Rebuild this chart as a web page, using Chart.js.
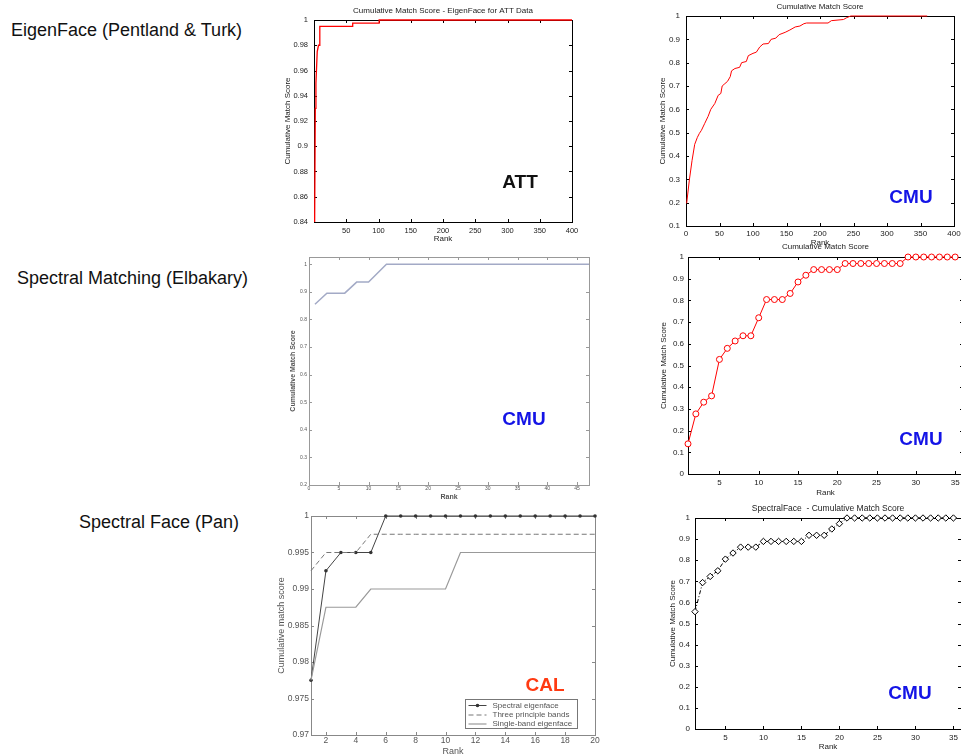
<!DOCTYPE html>
<html>
<head>
<meta charset="utf-8">
<script src="https://cdn.jsdelivr.net/npm/chart.js@4/dist/chart.umd.min.js"></script>
<style>
  body { margin: 0; width: 961px; height: 755px; background: #fff; overflow: hidden; position: relative;
         font-family: "Liberation Sans", Arial, sans-serif; }
  canvas { position: absolute; }
  .lbl { position: absolute; font-size: 18px; line-height: 1; color: #111; white-space: nowrap; }
  .tag { position: absolute; font-size: 19px; line-height: 1; font-weight: bold; transform: translate(-50%, -50%); }
</style>
</head>
<body>
<div class="lbl" style="left:11px;top:21px">EigenFace (Pentland &amp; Turk)</div>
<div class="lbl" style="left:17px;top:269px">Spectral Matching (Elbakary)</div>
<div class="lbl" style="left:79px;top:513px">Spectral Face (Pan)</div>

<canvas id="c1" width="306" height="246" style="left:278px;top:0px"></canvas>
<canvas id="c2" width="314" height="250" style="left:652px;top:0px"></canvas>
<canvas id="c3" width="310" height="253" style="left:285px;top:250px"></canvas>
<canvas id="c4" width="310" height="258" style="left:658px;top:240px"></canvas>
<canvas id="c5" width="328" height="252" style="left:275px;top:505px"></canvas>
<canvas id="c6" width="301" height="253" style="left:665px;top:500px"></canvas>

<div class="tag" style="left:520px;top:181px;color:#111">ATT</div>
<div class="tag" style="left:911px;top:196px;color:#1414e6">CMU</div>
<div class="tag" style="left:524px;top:418px;color:#1414e6">CMU</div>
<div class="tag" style="left:921px;top:438px;color:#1414e6">CMU</div>
<div class="tag" style="left:545px;top:684px;color:#ff3a12">CAL</div>
<div class="tag" style="left:910px;top:692px;color:#1414e6">CMU</div>

<script>
// EigenFace, ATT
const rank1 = [1, 2, 3, 5, 7, 8, 9, 60, 60, 101, 101, 400];
const score1 = [0.84, 0.93, 0.95, 0.975, 0.98, 0.98, 0.995, 0.995, 0.9975, 0.9975, 1, 1];
const xTicks1 = [50, 100, 150, 200, 250, 300, 350, 400];
const yTicks1 = [0.84, 0.86, 0.88, 0.9, 0.92, 0.94, 0.96, 0.98, 1];

// EigenFace, CMU
const rank2 = [1, 5, 9, 13, 17, 20, 23, 28, 33, 37, 43, 48, 52, 54, 58, 62, 66, 68, 73, 80, 83, 90, 93,
  100, 105, 110, 115, 123, 127, 134, 139, 148, 155, 163, 170, 176, 180, 212, 217, 235, 240, 246, 360];
const score2 = [0.197, 0.297, 0.38, 0.45, 0.48, 0.497, 0.51, 0.54, 0.57, 0.6, 0.625, 0.66, 0.668, 0.7,
  0.71, 0.72, 0.74, 0.765, 0.775, 0.78, 0.8, 0.805, 0.83, 0.84, 0.845, 0.867, 0.88, 0.882, 0.9, 0.905,
  0.92, 0.93, 0.94, 0.953, 0.957, 0.967, 0.97, 0.97, 0.98, 0.985, 0.993, 1, 1];
const xTicks2 = [0, 50, 100, 150, 200, 250, 300, 350, 400];
const yTicks2 = [0.1, 0.2, 0.3, 0.4, 0.5, 0.6, 0.7, 0.8, 0.9, 1];

// Spectral Matching, CMU
const rank3 = [1, 3, 6, 8, 10, 13, 47];
const score3 = [0.855, 0.895, 0.895, 0.935, 0.935, 1, 1];
const xTicks3 = [0, 5, 10, 15, 20, 25, 30, 35, 40, 45];
const yTicks3 = [0.2, 0.3, 0.4, 0.5, 0.6, 0.7, 0.8, 0.9, 1];

// Spectral Matching (right), CMU
const rank4 = [1, 2, 3, 4, 5, 6, 7, 8, 9, 10, 11, 12, 13, 14, 15, 16, 17, 18, 19, 20, 21, 22, 23, 24,
  25, 26, 27, 28, 29, 30, 31, 32, 33, 34, 35];
const score4 = [0.139, 0.277, 0.331, 0.36, 0.528, 0.579, 0.613, 0.637, 0.637, 0.72, 0.804, 0.804, 0.804,
  0.832, 0.885, 0.916, 0.942, 0.942, 0.942, 0.942, 0.97, 0.97, 0.97, 0.97, 0.97, 0.97, 0.97, 0.97,
  1, 1, 1, 1, 1, 1, 1];
const xTicks4 = [5, 10, 15, 20, 25, 30, 35];
const yTicks4 = [0, 0.1, 0.2, 0.3, 0.4, 0.5, 0.6, 0.7, 0.8, 0.9, 1];

// Spectral Face, CAL
const rank5 = [1, 2, 3, 4, 5, 6, 7, 8, 9, 10, 11, 12, 13, 14, 15, 16, 17, 18, 19, 20];
const spectral5 = [0.9775, 0.9925, 0.995, 0.995, 0.995, 1, 1, 1, 1, 1, 1, 1, 1, 1, 1, 1, 1, 1, 1, 1];
const three5 = [0.9925, 0.995, 0.995, 0.995, 0.9975, 0.9975, 0.9975, 0.9975, 0.9975, 0.9975, 0.9975,
  0.9975, 0.9975, 0.9975, 0.9975, 0.9975, 0.9975, 0.9975, 0.9975, 0.9975];
const single5 = [0.9775, 0.9875, 0.9875, 0.9875, 0.99, 0.99, 0.99, 0.99, 0.99, 0.99, 0.995, 0.995,
  0.995, 0.995, 0.995, 0.995, 0.995, 0.995, 0.995, 0.995];
const names5 = ["Spectral eigenface", "Three principle bands", "Single-band eigenface"];
const xTicks5 = [2, 4, 6, 8, 10, 12, 14, 16, 18, 20];
const yTicks5 = [0.97, 0.975, 0.98, 0.985, 0.99, 0.995, 1];

// SpectralFace, CMU
const rank6 = rank4;
const score6 = [0.556, 0.694, 0.723, 0.75, 0.805, 0.834, 0.862, 0.862, 0.862, 0.889, 0.889, 0.889,
  0.889, 0.889, 0.889, 0.918, 0.918, 0.918, 0.948, 0.973, 1, 1, 1, 1, 1, 1, 1, 1, 1, 1, 1, 1, 1, 1, 1];
const xTicks6 = [5, 10, 15, 20, 25, 30, 35];
const yTicks6 = yTicks4;

Chart.defaults.font.family = '"Liberation Sans", Arial, sans-serif';
Chart.defaults.color = "#222";

// matlab style box with inward ticks and a title above the plot
const framePlugin = {
  id: "frame",
  beforeDatasetsDraw(chart, args, opts) {
    const { ctx, chartArea: a, scales } = chart;
    const len = 3;
    ctx.save();
    ctx.strokeStyle = opts.color;
    ctx.lineWidth = 1;
    ctx.strokeRect(a.left + 0.5, a.top + 0.5, a.right - a.left, a.bottom - a.top);
    ctx.beginPath();
    scales.x.ticks.forEach(t => {
      const x = Math.round(scales.x.getPixelForValue(t.value)) + 0.5;
      ctx.moveTo(x, a.bottom); ctx.lineTo(x, a.bottom - len);
      ctx.moveTo(x, a.top); ctx.lineTo(x, a.top + len);
    });
    scales.y.ticks.forEach(t => {
      const y = Math.round(scales.y.getPixelForValue(t.value)) + 0.5;
      ctx.moveTo(a.left, y); ctx.lineTo(a.left + len, y);
      ctx.moveTo(a.right, y); ctx.lineTo(a.right - len, y);
    });
    ctx.stroke();
    if (opts.title) {
      ctx.fillStyle = "#222";
      ctx.font = opts.titleSize + 'px "Liberation Sans", Arial, sans-serif';
      ctx.textAlign = "center";
      ctx.textBaseline = "middle";
      ctx.fillText(opts.title, (a.left + a.right) / 2, a.top - opts.titleOffset);
    }
    ctx.restore();
  }
};

// legend box drawn inside the plot, lower right
const keyBoxPlugin = {
  id: "keyBox",
  afterDatasetsDraw(chart, args, opts) {
    if (!opts.show) return;
    const { ctx, chartArea: a } = chart;
    const w = 112, h = 29;
    const x0 = Math.round(a.right - 18 - w) + 0.5, y0 = Math.round(a.bottom - 7 - h) + 0.5;
    ctx.save();
    ctx.fillStyle = "#fff";
    ctx.fillRect(x0, y0, w, h);
    ctx.strokeStyle = "#777";
    ctx.lineWidth = 1;
    ctx.strokeRect(x0, y0, w, h);
    const rows = [6, 15.5, 24.5];
    ctx.font = '8px "Liberation Sans", Arial, sans-serif';
    ctx.textBaseline = "middle";
    chart.data.datasets.forEach((ds, i) => {
      const y = y0 + rows[ds.keyRow];
      ctx.strokeStyle = ds.borderColor;
      ctx.lineWidth = ds.borderWidth;
      ctx.setLineDash(ds.borderDash || []);
      ctx.beginPath(); ctx.moveTo(x0 + 3, y); ctx.lineTo(x0 + 21, y); ctx.stroke();
      ctx.setLineDash([]);
      if (ds.pointRadius) {
        ctx.fillStyle = ds.pointBackgroundColor;
        ctx.beginPath(); ctx.arc(x0 + 12, y, ds.pointRadius, 0, Math.PI * 2); ctx.fill();
      }
      ctx.fillStyle = "#555";
      ctx.fillText(ds.label, x0 + 27, y);
    });
    ctx.restore();
  }
};

function points(xs, ys) {
  return xs.map((x, i) => ({ x: x, y: ys[i] }));
}

function axis(o) {
  return {
    type: "linear",
    min: o.min,
    max: o.max,
    grid: { display: false, drawTicks: false },
    border: { display: false },
    afterBuildTicks: s => { s.ticks = o.ticks.map(v => ({ value: v })); },
    afterFit: s => { if (s.isHorizontal()) s.height = o.size; else s.width = o.size; },
    ticks: {
      autoSkip: false, maxRotation: 0, padding: o.pad,
      font: { size: o.font }, color: o.color || "#222",
      callback: v => String(v)
    },
    title: {
      display: true, text: o.title, color: o.color || "#222",
      font: { size: o.tfont, weight: o.bold ? "bold" : "normal" },
      padding: o.tpad
    }
  };
}

function makeChart(id, datasets, x, y, padding, frame, keyBox) {
  new Chart(document.getElementById(id), {
    type: "line",
    data: { datasets: datasets },
    options: {
      responsive: false,
      animation: false,
      events: [],
      devicePixelRatio: 1,
      layout: { padding: padding },
      scales: { x: axis(x), y: axis(y) },
      plugins: {
        legend: { display: false },
        tooltip: { enabled: false },
        frame: frame,
        keyBox: keyBox || { show: false }
      }
    },
    plugins: [framePlugin, keyBoxPlugin]
  });
}

makeChart("c1",
  [{ data: points(rank1, score1), borderColor: "#ff0000", borderWidth: 1.3, pointRadius: 0, clip: false }],
  { min: 0, max: 400, ticks: xTicks1, size: 24, pad: 4, font: 7.5, title: "Rank", tfont: 8, tpad: { top: 0, bottom: 2 } },
  { min: 0.84, max: 1, ticks: yTicks1, size: 36, pad: 6, font: 7.5, title: "Cumulative Match Score", tfont: 8, tpad: { top: 5, bottom: 0 } },
  { left: 0, top: 20, right: 12, bottom: 0 },
  { color: "#000", title: "Cumulative Match Score - EigenFace for ATT Data", titleSize: 8, titleOffset: 9 });

makeChart("c2",
  [{ data: points(rank2, score2), borderColor: "#ff0000", borderWidth: 1, pointRadius: 0, clip: false }],
  { min: 0, max: 400, ticks: xTicks2, size: 24, pad: 3, font: 8, title: "Rank", tfont: 8, tpad: { top: 0, bottom: 2 } },
  { min: 0.1, max: 1, ticks: yTicks2, size: 34, pad: 6, font: 8, title: "Cumulative Match Score", tfont: 8, tpad: { top: 6, bottom: 0 } },
  { left: 0, top: 16, right: 12, bottom: 0 },
  { color: "#000", title: "Cumulative Match Score", titleSize: 8, titleOffset: 9 });

makeChart("c3",
  [{ data: points(rank3, score3), borderColor: "#a3aac6", borderWidth: 1.5, pointRadius: 0, clip: false }],
  { min: 0, max: 47, ticks: xTicks3, size: 18, pad: 1, font: 5, color: "#555", title: "Rank", tfont: 7, bold: true, tpad: { top: 0, bottom: 2 } },
  { min: 0.2, max: 1.026, ticks: yTicks3, size: 24, pad: 2, font: 5, color: "#555", title: "Cumulative Match Score", tfont: 7, bold: true, tpad: { top: 4, bottom: 0 } },
  { left: 0, top: 7, right: 6, bottom: 0 },
  { color: "#999" });

makeChart("c4",
  [{ data: points(rank4, score4), borderColor: "#ff0000", borderWidth: 1, pointStyle: "circle", pointRadius: 3,
     pointBorderColor: "#ff0000", pointBorderWidth: 1, pointBackgroundColor: "#fff", clip: false }],
  { min: 1, max: 36, ticks: xTicks4, size: 24, pad: 4, font: 8, title: "Rank", tfont: 8, tpad: { top: 0, bottom: 0 } },
  { min: 0, max: 1, ticks: yTicks4, size: 30, pad: 4, font: 8, title: "Cumulative Match Score", tfont: 8, tpad: { top: 1, bottom: 0 } },
  { left: 0, top: 17, right: 4, bottom: 0 },
  { color: "#000", title: "Cumulative Match Score", titleSize: 8, titleOffset: 10 });

makeChart("c5",
  [
    { label: names5[2], keyRow: 2, data: points(rank5, single5), borderColor: "#999", borderWidth: 1.2, pointRadius: 0, clip: false },
    { label: names5[1], keyRow: 1, data: points(rank5, three5), borderColor: "#777", borderWidth: 1, borderDash: [5, 3], pointRadius: 0, clip: false },
    { label: names5[0], keyRow: 0, data: points(rank5, spectral5), borderColor: "#444", borderWidth: 1, pointRadius: 1.8,
      pointBackgroundColor: "#333", pointBorderWidth: 0, clip: false }
  ],
  { min: 1, max: 20, ticks: xTicks5, size: 22, pad: 1, font: 8.5, color: "#555", title: "Rank", tfont: 9, tpad: { top: 0, bottom: 0 } },
  { min: 0.97, max: 1, ticks: yTicks5, size: 36, pad: 2, font: 8.5, color: "#555", title: "Cumulative match score", tfont: 9, tpad: { top: 1, bottom: 0 } },
  { left: 0, top: 11, right: 8, bottom: 0 },
  { color: "#888" },
  { show: true });

makeChart("c6",
  [{ data: points(rank6, score6), borderColor: "#000", borderWidth: 1, borderDash: [4, 2, 1, 2], pointStyle: "rectRot", pointRadius: 3.2,
     pointBorderColor: "#000", pointBorderWidth: 1, pointBackgroundColor: "#fff", clip: false }],
  { min: 1, max: 36, ticks: xTicks6, size: 24, pad: 3.5, font: 8, title: "Rank", tfont: 8, tpad: { top: 0, bottom: 1.5 } },
  { min: 0, max: 1, ticks: yTicks6, size: 30, pad: 5, font: 8, title: "Cumulative Match Score", tfont: 8, tpad: { top: 2.5, bottom: 0 } },
  { left: 0, top: 18, right: 4, bottom: 0 },
  { color: "#000", title: "SpectralFace  - Cumulative Match Score", titleSize: 8.5, titleOffset: 9 });
</script>
</body>
</html>
